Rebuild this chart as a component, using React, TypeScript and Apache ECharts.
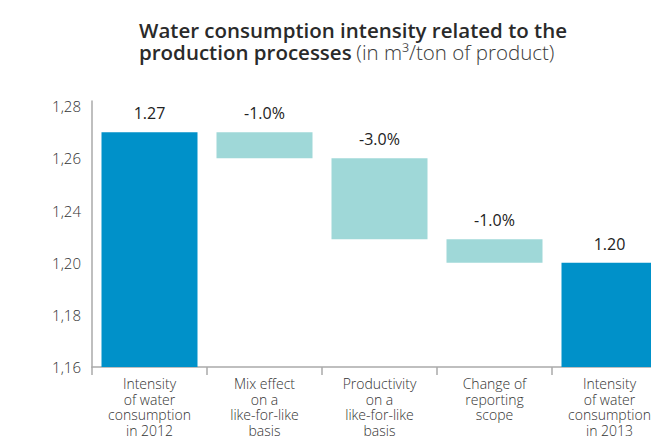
import React, { useEffect, useRef } from "react";
import * as echarts from "echarts";

// Categories along the bottom axis
const categories = [
  "Intensity\nof water\nconsumption\nin 2012",
  "Mix effect\non a\nlike-for-like\nbasis",
  "Productivity\non a\nlike-for-like\nbasis",
  "Change of\nreporting\nscope",
  "Intensity\nof water\nconsumption\nin 2013",
];

// Y axis ticks (evenly spaced, as printed on the axis)
const tickValues = [1.16, 1.18, 1.2, 1.24, 1.26, 1.28];
const tickLabels = ["1,16", "1,18", "1,20", "1,24", "1,26", "1,28"];

// Water intensity at the start and end of the bridge (m³/ton)
const startValue = 1.27;
const endValue = 1.2;

// Intermediate changes: label and level reached after each change
const changeLabels = ["-1.0%", "-3.0%", "-1.0%"];
const changeLevels = [1.26, 1.218, 1.2];

const TOTAL_COLOR = "#0091c9";
const CHANGE_COLOR = "#9fd8d8";

// Map a value onto the evenly spaced tick positions (piecewise linear)
function toPos(v: number): number {
  for (let i = 0; i < tickValues.length - 1; i++) {
    const a = tickValues[i];
    const b = tickValues[i + 1];
    if (v <= b || i === tickValues.length - 2) {
      return i + (v - a) / (b - a);
    }
  }
  return 0;
}

export default function App() {
  const ref = useRef<HTMLDivElement>(null);

  useEffect(() => {
    if (!ref.current) return;
    const chart = echarts.init(ref.current, undefined, { renderer: "svg" });

    const levels = [startValue, ...changeLevels];
    const bases: number[] = [];
    const heights: number[] = [];
    const labels: string[] = [];
    const colors: string[] = [];

    bases.push(0);
    heights.push(toPos(startValue));
    labels.push(startValue.toFixed(2));
    colors.push(TOTAL_COLOR);

    changeLabels.forEach((lab, i) => {
      const top = levels[i];
      const bottom = levels[i + 1];
      bases.push(toPos(bottom));
      heights.push(toPos(top) - toPos(bottom));
      labels.push(lab);
      colors.push(CHANGE_COLOR);
    });

    bases.push(0);
    heights.push(toPos(endValue));
    labels.push(endValue.toFixed(2));
    colors.push(TOTAL_COLOR);

    const font = "'Open Sans', 'Noto Sans', sans-serif";

    chart.setOption({
      animation: false,
      textStyle: { fontFamily: font },
      title: {
        left: 134,
        top: 14,
        text:
          "{b|Water consumption intensity related to the}\n{b|production processes} {r|(in m³/ton of product)}",
        textStyle: {
          rich: {
            b: {
              fontFamily: font,
              fontSize: 20.5,
              fontWeight: 600,
              color: "#2a2a2a",
              lineHeight: 22,
            },
            r: {
              fontFamily: font,
              fontSize: 20.5,
              fontWeight: 300,
              color: "#3a3a3a",
              lineHeight: 22,
            },
          },
        },
      },
      grid: {
        left: 92,
        right: -16,
        top: 101,
        bottom: 71,
        containLabel: false,
        outerBoundsMode: "none",
      },
      xAxis: {
        type: "category",
        data: categories,
        axisLine: { lineStyle: { color: "#aaaaaa", width: 1.5 } },
        axisTick: { show: true, length: 8, lineStyle: { color: "#aaaaaa", width: 1.5 } },
        axisLabel: {
          interval: 0,
          margin: 9,
          fontSize: 14,
          lineHeight: 15.5,
          color: "#333333",
          fontFamily: font,
          fontWeight: 300,
          align: "center",
        },
      },
      yAxis: {
        type: "value",
        min: 0,
        max: 5.1,
        interval: 1,
        axisLine: { show: true, lineStyle: { color: "#aaaaaa", width: 1.5 } },
        axisTick: { show: false },
        splitLine: { show: false },
        axisLabel: {
          margin: 11,
          fontSize: 15,
          color: "#333333",
          fontFamily: font,
          fontWeight: 300,
          formatter: (v: number) =>
            Number.isInteger(v) && v < tickLabels.length ? tickLabels[v] : "",
        },
      },
      series: [
        {
          type: "bar",
          stack: "bridge",
          data: bases,
          itemStyle: { color: "transparent" },
          emphasis: { disabled: true },
          silent: true,
          barWidth: 96,
        },
        {
          type: "bar",
          stack: "bridge",
          barWidth: 96,
          data: heights.map((h, i) => ({
            value: h,
            itemStyle: { color: colors[i] },
          })),
          label: {
            show: true,
            position: "top",
            distance: 11,
            fontSize: 16,
            fontWeight: 500,
            color: "#222222",
            fontFamily: font,
            formatter: (p: any) => labels[p.dataIndex],
          },
        },
      ],
    });

    return () => chart.dispose();
  }, []);

  return (
    <div
      ref={ref}
      style={{ position: "absolute", left: 0, top: 0, width: 651, height: 438 }}
    />
  );
}
